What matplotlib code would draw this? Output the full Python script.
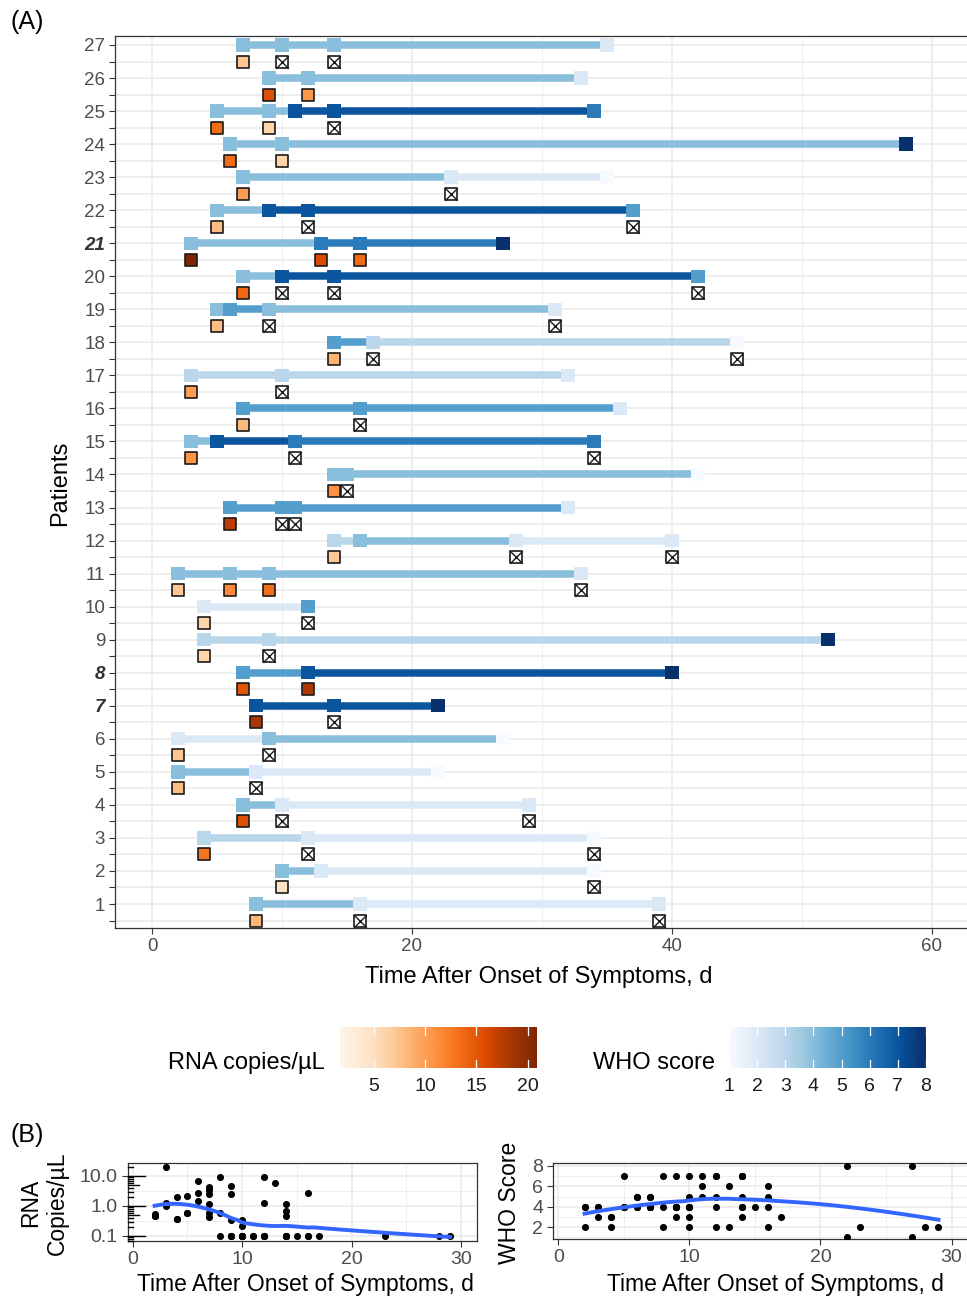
import numpy as np
import matplotlib
matplotlib.use("Agg")
import matplotlib.pyplot as plt
from matplotlib.colors import Normalize

plt.rcParams['font.family'] = ['Liberation Sans', 'DejaVu Sans']

W, H = 967, 1297

def fx(px):
    return px / W

def fy(py):
    return 1 - py / H

# ---- data -------------------------------------------------------------
patients = list(range(1, 28))
bold_patients = [7, 8, 21]

# WHO score course, index 0 -> patient 1
who_days = [
    [8, 16, 39], [10, 13, 34], [4, 12, 34], [7, 10, 29], [2, 8, 22],
    [2, 9, 27], [8, 14, 22], [7, 12, 40], [4, 9, 52], [4, 12],
    [2, 6, 9, 33], [14, 16, 28, 40], [6, 10, 11, 32], [14, 15, 42],
    [3, 5, 11, 34], [7, 16, 36], [3, 10, 32], [14, 17, 45], [5, 6, 9, 31],
    [7, 10, 14, 42], [3, 13, 16, 27], [5, 9, 12, 37], [7, 23, 35],
    [6, 10, 58], [5, 9, 11, 14, 34], [9, 12, 33], [7, 10, 14, 35],
]
who_scores = [
    [4, 2, 2], [4, 2, 1], [3, 2, 1], [4, 2, 2], [4, 2, 1],
    [2, 4, 1], [7, 7, 8], [5, 7, 8], [3, 3, 8], [2, 5],
    [4, 4, 4, 2], [3, 4, 2, 2], [5, 5, 5, 2], [4, 4, 1],
    [4, 7, 6, 6], [5, 5, 2], [3, 3, 2], [5, 3, 1], [4, 5, 4, 2],
    [4, 7, 7, 5], [4, 6, 6, 8], [4, 7, 7, 5], [4, 2, 1],
    [4, 4, 8], [4, 4, 7, 7, 6], [4, 4, 2], [4, 4, 4, 2],
]

# RNA samples: day, copies/uL (0 = not detected), colour-scale level
rna_days = [
    [8, 16, 39], [10, 34], [4, 12, 34], [7, 10, 29], [2, 8],
    [2, 9], [8, 14], [7, 12], [4, 9], [4, 12],
    [2, 6, 9, 33], [14, 28, 40], [6, 10, 11], [14, 15],
    [3, 11, 34], [7, 16], [3, 10], [14, 17, 45], [5, 9, 31],
    [7, 10, 14, 42], [3, 13, 16], [5, 12, 37], [7, 23],
    [6, 10], [5, 9, 14], [9, 12], [7, 10, 14],
]
rna_copies = [
    [0.6, 0, 0], [0.21, 0], [2.0, 0, 0], [3.4, 0, 0], [0.55, 0],
    [0.45, 0], [9.5, 0], [4.4, 9.0], [0.36, 0], [0.36, 0],
    [0.45, 1.5, 2.5, 0], [0.45, 0, 0], [7.0, 0, 0], [1.2, 0],
    [1.3, 0, 0], [0.42, 0], [1.0, 0], [0.7, 0, 0], [0.57, 0, 0],
    [2.5, 0, 0, 0], [20.5, 6.0, 2.8], [0.57, 0, 0], [1.2, 0],
    [2.7, 0.34], [2.1, 0.34, 0], [4.6, 1.3], [0.57, 0, 0],
]
rna_level = [
    [8.4, None, None], [4.6, None], [13.0, None, None], [15.5, None, None], [7.9, None],
    [7.2, None], [18.3, None], [15.3, 18.0], [6.1, None], [6.0, None],
    [7.1, 11.5, 13.2, None], [7.0, None, None], [17.5, None, None], [11.0, None],
    [10.8, None, None], [8.0, None], [10.3, None], [8.6, None, None], [7.9, None, None],
    [13.8, None, None, None], [20.9, 16.0, 13.5], [7.9, None, None], [10.2, None],
    [13.5, 6.0], [13.5, 6.0, None], [15.5, 10.5], [7.3, None, None],
]

rna_ticks = [5, 10, 15, 20]
who_ticks = [1, 2, 3, 4, 5, 6, 7, 8]
rna_limits = (1.7, 20.9)
who_limits = (1, 8)
day_cutoff = 30
undetected_value = 0.1
smooth_span = 0.9

who_cmap = plt.get_cmap('Blues')
who_norm = Normalize(*who_limits)
rna_cmap = plt.get_cmap('Oranges')
rna_norm = Normalize(*rna_limits)

GRID = '#ebebeb'
FRAME = '#333333'
TICKTXT = '#4d4d4d'

fig = plt.figure(figsize=(W / 100, H / 100), dpi=100)


def style_axes(ax, tick_size):
    for sp in ax.spines.values():
        sp.set_color(FRAME)
        sp.set_linewidth(0.9)
    ax.tick_params(which='both', color=FRAME, width=0.8, length=4.2,
                   labelcolor=TICKTXT, labelsize=tick_size, pad=3)
    ax.set_axisbelow(True)


# ---- panel A ------------------------------------------------------------
axA = fig.add_axes([fx(115), fy(928), fx(972) - fx(115), fy(36) - fy(928)])
style_axes(axA, 13.5)
axA.set_xlim((115 - 152) / 13, (972 - 152) / 13)
axA.set_ylim(0.2736, 27.272)
axA.set_xticks([0, 20, 40, 60])
axA.set_xticks([10, 30, 50], minor=True)
axA.set_yticks(patients)
axA.set_yticklabels([str(p) for p in patients])
axA.set_yticks([p - 0.5 for p in patients], minor=True)
axA.tick_params(axis='x', which='minor', length=0)
axA.grid(axis='x', which='major', color=GRID, lw=1.2)
axA.grid(axis='x', which='minor', color=GRID, lw=0.6)
axA.grid(axis='y', which='both', color=GRID, lw=1.2)
for lab in axA.get_yticklabels():
    if int(lab.get_text()) in bold_patients:
        lab.set_fontweight('bold')
        lab.set_fontstyle('italic')
        lab.set_color('#333333')

for i, p in enumerate(patients):
    d = who_days[i]
    s = who_scores[i]
    for j in range(len(d) - 1):
        axA.plot([d[j], d[j + 1]], [p, p], color=who_cmap(who_norm(s[j])),
                 lw=5.4, solid_capstyle='butt', zorder=2)
    axA.scatter(d, [p] * len(d), marker='s', s=92,
                c=[who_cmap(who_norm(v)) for v in s], linewidths=0, zorder=3)

    yr = p - 0.5
    for day, lev in zip(rna_days[i], rna_level[i]):
        if lev is None:
            axA.scatter([day], [yr], marker='s', s=82, facecolor='white',
                        edgecolor='#1a1a1a', linewidths=1.2, zorder=4)
            axA.scatter([day], [yr], marker='x', s=82, color='#1a1a1a',
                        linewidths=1.0, zorder=5)
        else:
            axA.scatter([day], [yr], marker='s', s=82,
                        facecolor=rna_cmap(rna_norm(lev)),
                        edgecolor='#1a1a1a', linewidths=1.2, zorder=4)

fig.text(fx(10), fy(22), '(A)', fontsize=18, ha='left', va='center')
fig.text(fx(539), fy(977), 'Time After Onset of Symptoms, d', fontsize=17,
         ha='center', va='center')
fig.text(fx(60), fy(483), 'Patients', fontsize=17, rotation=90,
         ha='center', va='center')


# ---- colour bars ------------------------------------------------------------
def colourbar(x0, x1, limits, ticks, cmap, title, title_x):
    cax = fig.add_axes([fx(x0), fy(1068), fx(x1) - fx(x0), fy(1027) - fy(1068)])
    grad = np.linspace(limits[0], limits[1], 300).reshape(1, -1)
    cax.imshow(grad, cmap=cmap, norm=Normalize(*limits), aspect='auto',
               extent=(limits[0], limits[1], 0, 1), interpolation='bilinear')
    cax.set_xlim(*limits)
    cax.set_ylim(0, 1)
    for t in ticks:
        cax.plot([t, t], [0, 0.2], color='white', lw=0.9)
        cax.plot([t, t], [0.8, 1], color='white', lw=0.9)
    cax.set_yticks([])
    cax.set_xticks(ticks)
    cax.set_xticklabels([str(t) for t in ticks])
    cax.tick_params(axis='x', length=0, pad=7, labelsize=14, labelcolor='#1a1a1a')
    for sp in cax.spines.values():
        sp.set_visible(False)
    fig.text(fx(title_x), fy(1063), title, fontsize=17, ha='right', va='center')


colourbar(340, 537, rna_limits, rna_ticks, rna_cmap, 'RNA copies/µL', 325)
colourbar(729, 926, who_limits, who_ticks, who_cmap, 'WHO score', 715)


# ---- panel B ------------------------------------------------------------
def loess(x, y, xs, span):
    # tricube weighted local quadratic regression
    n = len(x)
    q = int(np.floor(n * span))
    fit = []
    for x0 in xs:
        dist = np.abs(x - x0)
        h = np.sort(dist)[q - 1]
        w = np.clip(1 - (dist / h) ** 3, 0, None) ** 3
        A = np.vstack([np.ones(n), x - x0, (x - x0) ** 2]).T
        sw = np.sqrt(w)
        coef, *_ = np.linalg.lstsq(A * sw[:, None], y * sw, rcond=None)
        fit.append(coef[0])
    return np.array(fit)


b_rna_x, b_rna_y, b_who_x, b_who_y = [], [], [], []
for i in range(len(patients)):
    for day, c in zip(rna_days[i], rna_copies[i]):
        if day < day_cutoff:
            b_rna_x.append(day)
            b_rna_y.append(np.log10(c if c > 0 else undetected_value))
    for day, s in zip(who_days[i], who_scores[i]):
        if day < day_cutoff:
            b_who_x.append(day)
            b_who_y.append(s)
b_rna_x = np.array(b_rna_x, float)
b_rna_y = np.array(b_rna_y, float)
b_who_x = np.array(b_who_x, float)
b_who_y = np.array(b_who_y, float)

bx_lim = (-0.46, 31.45)

# left: RNA copies (log10)
axL = fig.add_axes([fx(127.7), fy(1240.7), fx(477) - fx(127.7), fy(1163.3) - fy(1240.7)])
style_axes(axL, 14)
axL.set_xlim(*bx_lim)
axL.set_ylim(-1.157, 1.423)
axL.set_xticks([0, 10, 20, 30])
axL.set_xticks([5, 15, 25], minor=True)
axL.set_yticks([-1, 0, 1])
axL.set_yticklabels(['0.1', '1.0', '10.0'])
axL.set_yticks([-0.5, 0.5], minor=True)
axL.tick_params(which='minor', length=0)
axL.grid(which='major', color=GRID, lw=1.2)
axL.grid(which='minor', color=GRID, lw=0.6)
tr = axL.get_yaxis_transform()
for m in (-2, -1, 0, 1):
    for k in range(1, 10):
        yv = m + np.log10(k)
        if -1.157 <= yv <= 1.423:
            ln = 0.049 if k == 1 else (0.032 if k == 5 else 0.016)
            axL.plot([0, ln], [yv, yv], color='black', lw=1.0, transform=tr,
                     clip_on=False, zorder=3)
axL.scatter(b_rna_x, b_rna_y, s=26, color='black', linewidths=0, zorder=4)
xs = np.linspace(b_rna_x.min(), b_rna_x.max(), 80)
axL.plot(xs, loess(b_rna_x, b_rna_y, xs, smooth_span), color='#3366FF',
         lw=2.8, zorder=5)

# right: WHO score
axR = fig.add_axes([fx(553.3), fy(1239.3), 13.11 * (bx_lim[1] + 0.38) / W,
                    fy(1163.3) - fy(1239.3)])
style_axes(axR, 14)
axR.set_xlim(-0.38, bx_lim[1])
axR.set_ylim(0.82, 8.26)
axR.set_xticks([0, 10, 20, 30])
axR.set_xticks([5, 15, 25], minor=True)
axR.set_yticks([2, 4, 6, 8])
axR.set_yticks([1, 3, 5, 7], minor=True)
axR.tick_params(which='minor', length=0)
axR.grid(which='major', color=GRID, lw=1.2)
axR.grid(which='minor', color=GRID, lw=0.6)
axR.scatter(b_who_x, b_who_y, s=26, color='black', linewidths=0, zorder=4)
xs = np.linspace(b_who_x.min(), b_who_x.max(), 80)
axR.plot(xs, loess(b_who_x, b_who_y, xs, smooth_span), color='#3366FF',
         lw=2.8, zorder=5)

fig.text(fx(10), fy(1135), '(B)', fontsize=18, ha='left', va='center')
fig.text(fx(305), fy(1284), 'Time After Onset of Symptoms, d', fontsize=16.5,
         ha='center', va='center')
fig.text(fx(775), fy(1284), 'Time After Onset of Symptoms, d', fontsize=16.5,
         ha='center', va='center')
fig.text(fx(44), fy(1203), 'RNA\nCopies/µL', fontsize=16.5, rotation=90,
         ha='center', va='center', multialignment='center')
fig.text(fx(510), fy(1203), 'WHO Score', fontsize=16.5, rotation=90,
         ha='center', va='center')

fig.savefig('out.png', dpi=100)
